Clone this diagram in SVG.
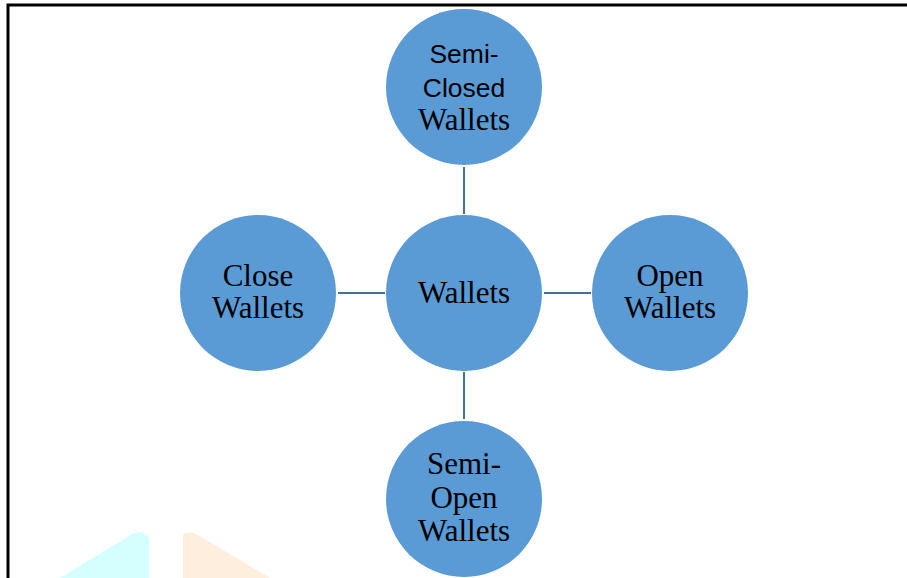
<svg xmlns="http://www.w3.org/2000/svg" width="907" height="578" viewBox="0 0 907 578">
<style>
.node{fill:#5B9BD5;}
.conn{stroke:#41719C;stroke-width:2;fill:none;}
.serif{font-family:"Liberation Serif","Times New Roman",serif;font-size:31px;fill:#000;text-anchor:middle;}
.sans{font-family:"Liberation Sans",Arial,sans-serif;font-size:26.5px;fill:#000;text-anchor:middle;}
</style>
<rect x="0" y="0" width="907" height="578" fill="#FFFFFF"/>
<path d="M8,578 V5 H907" fill="none" stroke="#000" stroke-width="3"/>
<polygon points="60,578 132,534 140,532 146,534 149,538 149,578" fill="#D5FFFF"/>
<polygon points="183,578 183,534 190,532 198,535 270,578" fill="#FEEEDD"/>
<g id="connectors">
<line class="conn" x1="464" y1="167" x2="464" y2="214"/>
<line class="conn" x1="464" y1="372" x2="464" y2="419"/>
<line class="conn" x1="338" y1="293" x2="385" y2="293"/>
<line class="conn" x1="544" y1="293" x2="591" y2="293"/>
</g>
<g id="center">
<circle class="node" cx="464" cy="293" r="78"/>
<text class="serif" x="464" y="303">Wallets</text>
</g>
<g id="top">
<circle class="node" cx="464" cy="87" r="78"/>
<text class="sans" x="464" y="63">Semi-</text>
<text class="sans" x="464" y="97">Closed</text>
<text class="serif" x="464" y="130">Wallets</text>
</g>
<g id="bottom">
<circle class="node" cx="464" cy="499" r="78"/>
<text class="serif" x="464" y="474">Semi-</text>
<text class="serif" x="464" y="508">Open</text>
<text class="serif" x="464" y="541">Wallets</text>
</g>
<g id="left">
<circle class="node" cx="258" cy="293" r="78"/>
<text class="serif" x="258" y="286">Close</text>
<text class="serif" x="258" y="318">Wallets</text>
</g>
<g id="right">
<circle class="node" cx="670" cy="293" r="78"/>
<text class="serif" x="670" y="286">Open</text>
<text class="serif" x="670" y="318">Wallets</text>
</g>
</svg>
